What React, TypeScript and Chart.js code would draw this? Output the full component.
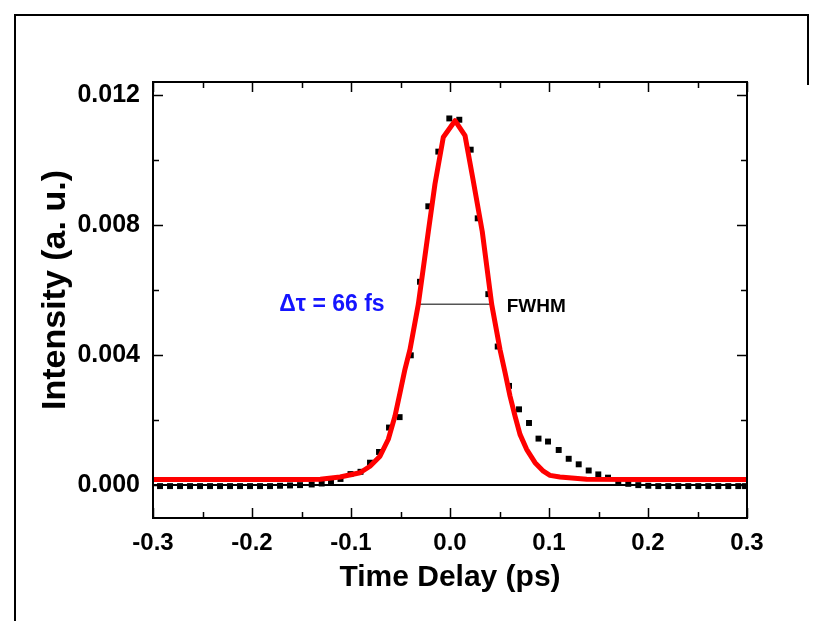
import React, { useEffect, useRef } from "react";
import { Chart, registerables } from "chart.js";

Chart.register(...registerables);

// Measured autocorrelation (black squares)
const measuredDelay = [
  -0.2929, -0.2828, -0.2727, -0.2626, -0.2525, -0.2424, -0.2323, -0.2222, -0.2121, -0.202,
  -0.1919, -0.1818, -0.1717, -0.1616, -0.1515, -0.1397, -0.1296, -0.1202, -0.1106, -0.1005,
  -0.0904, -0.0808, -0.0717, -0.0616, -0.0509, -0.0396, -0.0303, -0.0219, -0.0118, -0.0007,
  0.0094, 0.0209, 0.028, 0.0387, 0.0482, 0.0596, 0.0697, 0.0798, 0.0894, 0.099,
  0.1098, 0.1199, 0.13, 0.1401, 0.1498, 0.1596, 0.17, 0.1801, 0.1902, 0.2003,
  0.2104, 0.2205, 0.2306, 0.2407, 0.2508, 0.2609, 0.271, 0.2811, 0.2912, 0.298,
];
const measuredIntensity = [
  -0.00002, -0.00002, -0.00002, -0.00002, -0.00002, -0.00002, -0.00002, -0.00002, -0.00002, -0.00002,
  -0.00002, -0.00002, -0.00001, 0.0, 0.00001, 0.00003, 0.00006, 0.00012, 0.0002, 0.00035,
  0.00042, 0.0007, 0.00103, 0.00178, 0.0021, 0.004, 0.00626, 0.00858, 0.01026, 0.01128,
  0.01124, 0.01032, 0.00821, 0.00588, 0.00427, 0.00306, 0.00234, 0.00192, 0.00144, 0.00135,
  0.00109, 0.00082, 0.00065, 0.00046, 0.00034, 0.00024, 0.00013, 0.00005, 0.00001, -0.00001,
  -0.00002, -0.00002, -0.00002, -0.00002, -0.00002, -0.00002, -0.00002, -0.00002, -0.00002, -0.00002,
];

// Fitted curve (red)
const fitDelay = [
  -0.3, -0.2, -0.15, -0.131, -0.111, -0.0909, -0.0808, -0.0707, -0.0623, -0.0556,
  -0.0505, -0.0455, -0.0404, -0.032, -0.0219, -0.0152, -0.0068, 0.0051, 0.0152, 0.0235,
  0.0326, 0.0421, 0.0505, 0.0556, 0.0606, 0.0657, 0.0707, 0.0774, 0.0859, 0.0943,
  0.101, 0.111, 0.138, 0.2, 0.3,
];
const fitIntensity = [
  0.00018, 0.00018, 0.00018, 0.00019, 0.00026, 0.00039, 0.00059, 0.0009, 0.00142, 0.00213,
  0.00285, 0.00357, 0.00418, 0.00557, 0.0078, 0.00926, 0.0107, 0.01121, 0.01075, 0.00936,
  0.0078, 0.00557, 0.00418, 0.00347, 0.00275, 0.00213, 0.00157, 0.00111, 0.0007, 0.00044,
  0.00031, 0.00026, 0.00019, 0.00018, 0.00018,
];

// FWHM marker
const fwhmDelay = [-0.034, 0.042];
const fwhmLevel = [0.00557, 0.00557];

const xTickValues = [-0.3, -0.2, -0.1, 0.0, 0.1, 0.2, 0.3];
const yTickValues = [0.0, 0.004, 0.008, 0.012];

const xTitle = "Time Delay (ps)";
const yTitle = "Intensity (a. u.)";
const widthLabel = "\u0394\u03c4 = 66 fs";
const fwhmLabel = "FWHM";

const FONT = "'Liberation Sans', Arial, Helvetica, sans-serif";

const framePlugin = {
  id: "frameAndTicks",
  beforeDraw(chart: any) {
    const ctx = chart.ctx;
    ctx.save();
    ctx.fillStyle = "#ffffff";
    ctx.fillRect(0, 0, chart.width, chart.height);
    // outer page frame
    ctx.strokeStyle = "#000";
    ctx.lineWidth = 2;
    ctx.beginPath();
    ctx.moveTo(15, chart.height + 2);
    ctx.lineTo(15, 15);
    ctx.lineTo(808, 15);
    ctx.lineTo(808, 85);
    ctx.stroke();
    ctx.restore();
  },
  afterDatasetsDraw(chart: any) {
    const ctx = chart.ctx;
    const { left, right, top, bottom } = chart.chartArea;
    const xs = chart.scales.x;
    const ys = chart.scales.y;
    ctx.save();
    ctx.strokeStyle = "#000";
    ctx.lineWidth = 2;
    ctx.strokeRect(left, top, right - left, bottom - top);

    const major = 10;
    const minor = 6;
    ctx.lineWidth = 1.5;
    ctx.beginPath();
    const xMinor: number[] = [];
    for (let i = 0; i < xTickValues.length - 1; i++) xMinor.push((xTickValues[i] + xTickValues[i + 1]) / 2);
    const yMinor: number[] = [];
    for (let i = 0; i < yTickValues.length - 1; i++) yMinor.push((yTickValues[i] + yTickValues[i + 1]) / 2);
    const xt = (v: number, len: number) => {
      const p = Math.round(xs.getPixelForValue(v)) + 0.5;
      ctx.moveTo(p, bottom);
      ctx.lineTo(p, bottom - len);
      ctx.moveTo(p, top);
      ctx.lineTo(p, top + len);
    };
    const yt = (v: number, len: number) => {
      const p = Math.round(ys.getPixelForValue(v)) + 0.5;
      ctx.moveTo(left, p);
      ctx.lineTo(left + len, p);
      ctx.moveTo(right, p);
      ctx.lineTo(right - len, p);
    };
    xTickValues.forEach((v) => xt(v, major));
    xMinor.forEach((v) => xt(v, minor));
    yTickValues.forEach((v) => yt(v, major));
    yMinor.forEach((v) => yt(v, minor));
    ctx.stroke();

    // annotations
    ctx.textBaseline = "middle";
    ctx.fillStyle = "#1414ff";
    ctx.font = `bold 23px ${FONT}`;
    ctx.textAlign = "right";
    ctx.fillText(widthLabel, xs.getPixelForValue(-0.066), ys.getPixelForValue(0.00557));
    ctx.fillStyle = "#000";
    ctx.font = `bold 19px ${FONT}`;
    ctx.textAlign = "left";
    ctx.fillText(fwhmLabel, xs.getPixelForValue(0.0573), ys.getPixelForValue(0.0055));

    // y axis title
    ctx.save();
    ctx.translate(56, 290);
    ctx.rotate(-Math.PI / 2);
    ctx.font = `bold 34px ${FONT}`;
    ctx.textAlign = "center";
    ctx.textBaseline = "middle";
    ctx.fillStyle = "#000";
    ctx.fillText(yTitle, 0, 0);
    ctx.restore();
    ctx.restore();
  },
};

export default function App() {
  const ref = useRef<HTMLCanvasElement>(null);
  useEffect(() => {
    const canvas = ref.current!;
    const chart = new Chart(canvas, {
      type: "scatter",
      data: {
        datasets: [
          {
            label: "Fit",
            data: fitDelay.map((x, i) => ({ x, y: fitIntensity[i] })),
            showLine: true,
            borderColor: "#ff0000",
            backgroundColor: "#ff0000",
            borderWidth: 5,
            pointRadius: 0,
            tension: 0,
            borderJoinStyle: "round",
          } as any,
          {
            label: "Measured",
            data: measuredDelay.map((x, i) => ({ x, y: measuredIntensity[i] })),
            showLine: false,
            pointStyle: "rect",
            pointRadius: 4.2,
            backgroundColor: "#000000",
            borderColor: "#000000",
            borderWidth: 0,
          } as any,
          {
            label: "FWHM",
            data: fwhmDelay.map((x, i) => ({ x, y: fwhmLevel[i] })),
            showLine: true,
            borderColor: "#555555",
            borderWidth: 1.5,
            pointRadius: 0,
          } as any,
        ],
      },
      options: {
        animation: false,
        responsive: false,
        maintainAspectRatio: false,
        layout: { padding: { left: 0, top: 82, right: 74, bottom: 0 } },
        plugins: { legend: { display: false }, tooltip: { enabled: false } },
        scales: {
          x: {
            type: "linear",
            min: -0.3,
            max: 0.3,
            afterBuildTicks: (s: any) => {
              s.ticks = xTickValues.map((v) => ({ value: v }));
            },
            afterFit: (s: any) => {
              s.height = 103;
            },
            grid: { display: false },
            border: { display: false },
            ticks: {
              callback: (v: any) => Number(v).toFixed(1),
              font: { family: FONT, size: 24, weight: "bold" },
              color: "#000",
              padding: 3,
              maxRotation: 0,
              autoSkip: false,
            },
            title: {
              display: true,
              text: xTitle,
              font: { family: FONT, size: 30, weight: "bold" },
              color: "#000",
              padding: { top: 0, bottom: 25 },
            },
          },
          y: {
            type: "linear",
            min: -0.001,
            max: 0.0124,
            afterBuildTicks: (s: any) => {
              s.ticks = yTickValues.map((v) => ({ value: v }));
            },
            afterFit: (s: any) => {
              s.width = 153;
            },
            grid: {
              display: true,
              drawTicks: false,
              color: (c: any) => (c.tick && c.tick.value === 0 ? "#000" : "rgba(0,0,0,0)"),
              lineWidth: 2,
            },
            border: { display: false },
            ticks: {
              callback: (v: any) => Number(v).toFixed(3),
              font: { family: FONT, size: 25, weight: "bold" },
              color: "#000",
              padding: 13,
              autoSkip: false,
            },
            title: { display: false },
          },
        },
      },
      plugins: [framePlugin],
    } as any);
    return () => chart.destroy();
  }, []);
  return (
    <div style={{ position: "fixed", left: 0, top: 0, width: 821, height: 621, background: "#fff" }}>
      <canvas ref={ref} width={821} height={621} style={{ width: 821, height: 621, display: "block" }} />
    </div>
  );
}
